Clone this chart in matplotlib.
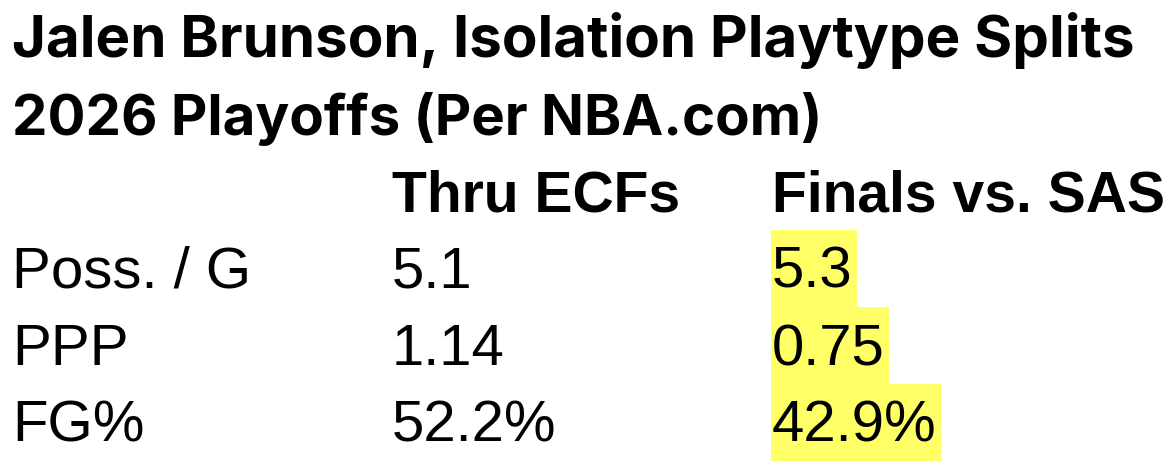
import matplotlib
matplotlib.use("Agg")
import matplotlib.pyplot as plt
from matplotlib.patches import Rectangle
from matplotlib import font_manager
import numpy as np

title_lines = ["Jalen Brunson, Isolation Playtype Splits", "2026 Playoffs (Per NBA.com)"]
columns = ["Thru ECFs", "Finals vs. SAS"]
row_labels = ["Poss. / G", "PPP", "FG%"]
thru_ecfs = ["5.1", "1.14", "52.2%"]
finals_vs_sas = ["5.3", "0.75", "42.9%"]

names = {f.name for f in font_manager.fontManager.ttflist}
TITLE_FONT = ["Inter", "Roboto", "DejaVu Sans"]
if "Liberation Sans Narrow" in names:
    HEAD_FONT = ["Liberation Sans Narrow", "Liberation Sans", "DejaVu Sans"]
else:
    HEAD_FONT = ["Liberation Sans", "DejaVu Sans"]
BODY_FONT = ["Liberation Sans", "DejaVu Sans"]
HIGHLIGHT = "#FFFF66"

W, H = 1176, 468
fig = plt.figure(figsize=(W / 100, H / 100), dpi=100)
ax = fig.add_axes([0, 0, 1, 1])
ax.set_xlim(0, W)
ax.set_ylim(H, 0)
ax.axis("off")
fig.canvas.draw()
renderer = fig.canvas.get_renderer()


def fit_size(s, width, family, weight="normal"):
    t = ax.text(0, 0, s, fontsize=40, family=family, fontweight=weight)
    for _ in range(3):
        bb = t.get_window_extent(renderer)
        t.set_fontsize(t.get_fontsize() * width / bb.width)
    size = t.get_fontsize()
    t.remove()
    return size


def place(x, y, s, size, family, weight="normal"):
    return ax.text(x, y, s, ha="left", va="baseline", fontsize=size,
                   family=family, fontweight=weight, color="black", zorder=3)


# title
for y, s, w in zip([57, 135], title_lines, [1123, 810]):
    place(12, y, s, fit_size(s, w, TITLE_FONT, "bold"), TITLE_FONT, "bold")

col_x = [392, 772]
head_w = [288, 393]
head_size = np.median([fit_size(s, w, HEAD_FONT, "bold") for s, w in zip(columns, head_w)])
for x, s in zip(col_x, columns):
    place(x, 211, s, head_size, HEAD_FONT, "bold")

baselines = [288, 365, 442]
label_w = [243, 113, 127]
thru_w = [78, 118, 165]
fin_w = [80, 113, 167]
sizes = []
for texts, widths in [(row_labels, label_w), (thru_ecfs, thru_w), (finals_vs_sas, fin_w)]:
    for s, w in zip(texts, widths):
        sizes.append(fit_size(s, w, BODY_FONT))
body_size = float(np.median(sizes))

for i, y in enumerate(baselines):
    place(12, y, row_labels[i], body_size, BODY_FONT)
    place(col_x[0], y, thru_ecfs[i], body_size, BODY_FONT)
    t = place(col_x[1], y, finals_vs_sas[i], body_size, BODY_FONT)
    x1 = t.get_window_extent(renderer).x1
    ax.add_patch(Rectangle((col_x[1] - 1, y - 58), x1 - col_x[1] + 5, 77,
                           facecolor=HIGHLIGHT, edgecolor="none", zorder=1))

fig.savefig("out.png", dpi=100, facecolor="white")
